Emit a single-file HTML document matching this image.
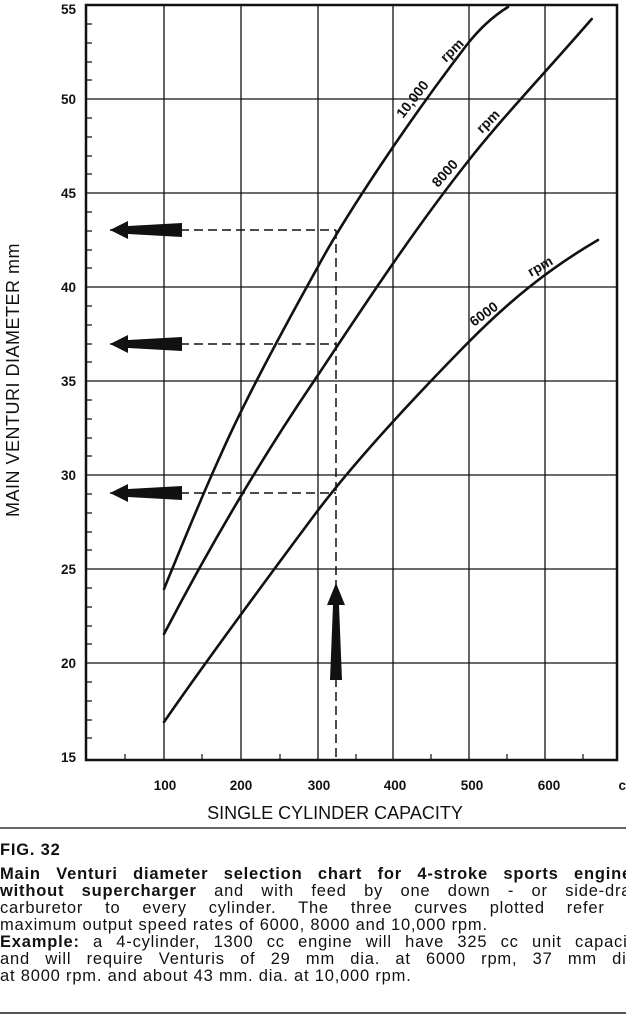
<!DOCTYPE html>
<html><head><meta charset="utf-8"><style>
body{margin:0;background:#fff;width:626px;height:1015px;overflow:hidden;font-family:"Liberation Sans",sans-serif;color:#111}
.cap{position:absolute;left:0;top:842px;width:642px;font-size:16.5px;line-height:17px;letter-spacing:0.8px}
.j{text-align:justify;text-align-last:justify;white-space:nowrap;width:642px}
.j.l{text-align-last:left}
</style></head><body>
<svg width="626" height="1015" style="position:absolute;left:0;top:0" font-family="Liberation Sans, sans-serif">
<g stroke="#111" stroke-width="1.3" fill="none">
<line x1="164" y1="5" x2="164" y2="760"/><line x1="241" y1="5" x2="241" y2="760"/>
<line x1="318" y1="5" x2="318" y2="760"/><line x1="393" y1="5" x2="393" y2="760"/>
<line x1="469" y1="5" x2="469" y2="760"/><line x1="545" y1="5" x2="545" y2="760"/>
<line x1="86" y1="99" x2="617" y2="99"/><line x1="86" y1="193" x2="617" y2="193"/>
<line x1="86" y1="287" x2="617" y2="287"/><line x1="86" y1="381" x2="617" y2="381"/>
<line x1="86" y1="475" x2="617" y2="475"/><line x1="86" y1="569" x2="617" y2="569"/>
<line x1="86" y1="663" x2="617" y2="663"/>
<rect x="86" y="5" width="531" height="755" stroke-width="2.5"/>
</g>
<g stroke="#111" stroke-width="1.2">
<path d="M86 24h6M86 43h6M86 62h6M86 80h6M86 118h6M86 137h6M86 156h6M86 174h6M86 212h6M86 231h6M86 250h6M86 268h6M86 306h6M86 325h6M86 344h6M86 362h6M86 400h6M86 419h6M86 438h6M86 456h6M86 494h6M86 513h6M86 532h6M86 550h6M86 588h6M86 607h6M86 626h6M86 644h6M86 682h6M86 701h6M86 720h6M86 738h6"/>
<path d="M125 760v-6M202 760v-6M280 760v-6M356 760v-6M431 760v-6M507 760v-6M583 760v-6"/>
</g>
<g stroke="#111" stroke-width="2.6" fill="none" stroke-linecap="round" stroke-linejoin="round">
<path d="M164,589 C180,550 200,500 222,452 C245,400 280,335 316.7,269 C340,225 400,132 466.7,45 C480,28 495,15 508,7"/>
<path d="M164,634 C200,565 250,475 316.7,377 C360,312 410,235 466.7,163 C500,120 545,73 591.7,19"/>
<path d="M164,722 C200,670 260,588 316.7,512 C350,468 400,412 466.7,344 C510,300 550,268 598,240"/>
</g>
<g stroke="#111" stroke-width="1.5" stroke-dasharray="9,5" fill="none">
<line x1="110" y1="230" x2="336" y2="230"/><line x1="110" y1="344" x2="336" y2="344"/>
<line x1="110" y1="493" x2="336" y2="493"/><line x1="336" y1="230" x2="336" y2="760"/>
</g>
<g fill="#111">
<polygon points="110,230 128,221 128,226 182,223 182,237 128,234 128,239"/>
<polygon points="110,344 128,335 128,340 182,337 182,351 128,348 128,353"/>
<polygon points="110,493 128,484 128,489 182,486 182,500 128,497 128,502"/>
<polygon points="336,583 345,605 339,605 342,680 330,680 333,605 327,605"/>
</g>
<g font-size="13.5" font-weight="bold" fill="#111" text-anchor="end">
<text x="76" y="14">55</text><text x="76" y="104">50</text><text x="76" y="198">45</text>
<text x="76" y="292">40</text><text x="76" y="386">35</text><text x="76" y="480">30</text>
<text x="76" y="574">25</text><text x="76" y="668">20</text><text x="76" y="762">15</text>
</g>
<g font-size="13.5" font-weight="bold" fill="#111" text-anchor="middle">
<text x="165" y="790">100</text><text x="241" y="790">200</text><text x="319" y="790">300</text>
<text x="395" y="790">400</text><text x="472" y="790">500</text><text x="549" y="790">600</text>
<text x="626" y="790">cc</text>
</g>
<text x="335" y="819" font-size="18" text-anchor="middle" fill="#111">SINGLE CYLINDER CAPACITY</text>
<text transform="translate(19,380) rotate(-90)" font-size="18" text-anchor="middle" fill="#111" letter-spacing="0.5">MAIN VENTURI DIAMETER mm</text>
<g font-size="14" fill="#111" font-weight="bold">
<text transform="translate(403,119) rotate(-52)">10,000</text><text transform="translate(446,63) rotate(-45)">rpm</text>
<text transform="translate(438,188) rotate(-48)">8000</text><text transform="translate(482,134) rotate(-45)">rpm</text>
<text transform="translate(474,327) rotate(-36)">6000</text><text transform="translate(531,277) rotate(-30)">rpm</text>
</g>
<line x1="0" y1="828" x2="626" y2="828" stroke="#333" stroke-width="1.5"/>
<line x1="0" y1="1013" x2="626" y2="1013" stroke="#555" stroke-width="2"/>
</svg>
<div class="cap">
<div style="font-weight:bold;margin-bottom:7px">FIG. 32</div>
<div class="j"><b>Main Venturi diameter selection chart for 4-stroke sports engines</b></div>
<div class="j"><b>without supercharger</b> and with feed by one down - or side-draft</div>
<div class="j">carburetor to every cylinder. The three curves plotted refer to</div>
<div class="j l">maximum output speed rates of 6000, 8000 and 10,000 rpm.</div>
<div class="j"><b>Example:</b> a 4-cylinder, 1300 cc engine will have 325 cc unit capacity</div>
<div class="j">and will require Venturis of 29 mm dia. at 6000 rpm, 37 mm dia.</div>
<div class="j l">at 8000 rpm. and about 43 mm. dia. at 10,000 rpm.</div>
</div>
</body></html>
